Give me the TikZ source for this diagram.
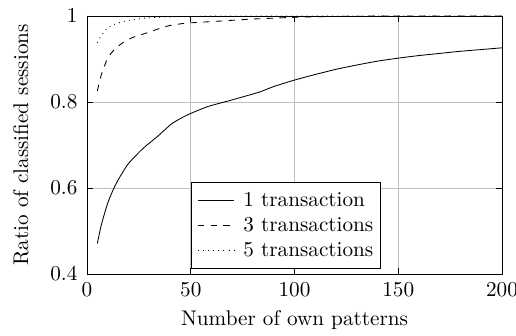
\documentclass[tikz,border=0pt]{standalone}
\usepackage{amsmath}
\usepackage{tikz}

\tikzset{
  gridline/.style={black!25, line width=0.4pt},
  frame/.style={black, line width=0.4pt},
  axtick/.style={black, line width=0.4pt},
  curve/.style={black, line width=0.4pt},
}

\begin{document}
\begin{tikzpicture}[x=0.4717pt, y=0.4717pt]
\useasboundingbox (0,0) rectangle (516,336);

% data coordinates: x in patterns, y in ratio
\begin{scope}[shift={(87,-110)}, x=0.9788pt, y=202.83pt]

% grid
\foreach \gx in {50,100,150} \draw[gridline] (\gx,0.4) -- (\gx,1);
\foreach \gy in {0.6,0.8} \draw[gridline] (0,\gy) -- (200,\gy);

% ticks
\foreach \gx in {0,50,100,150,200} {
  \draw[axtick] (\gx,0.4) -- ++(0,2.85pt);
  \draw[axtick] (\gx,1) -- ++(0,-2.85pt);
}
\foreach \gy in {0.4,0.6,0.8,1} {
  \draw[axtick] (0,\gy) -- ++(2.85pt,0);
  \draw[axtick] (200,\gy) -- ++(-2.85pt,0);
}

% tick labels
\node[anchor=north, yshift=-0.5pt] (x0) at (0,0.4) {$0$};
\node[anchor=north, yshift=-0.5pt] (x50) at (50,0.4) {$50$};
\node[anchor=north, yshift=-0.5pt] (x100) at (100,0.4) {$100$};
\node[anchor=north, yshift=-0.5pt] (x150) at (150,0.4) {$150$};
\node[anchor=north, yshift=-0.5pt] (x200) at (200,0.4) {$200$};
\node[anchor=east, xshift=-1pt] (y04) at (0,0.4) {$0.4$};
\node[anchor=east, xshift=-1pt] (y06) at (0,0.6) {$0.6$};
\node[anchor=east, xshift=-1pt] (y08) at (0,0.8) {$0.8$};
\node[anchor=east, xshift=-1pt] (y1) at (0,1) {$1$};

% 1 transaction
\draw[curve] plot[smooth, tension=.4] coordinates {(5,0.471) (7,0.516) (10,0.565) (13,0.600) (16,0.627) (20,0.657) (27,0.692) (34,0.72) (41,0.75) (48,0.769) (58,0.789) (70,0.805) (83,0.823) (90,0.836) (100,0.851) (110,0.864) (120,0.876) (130,0.886) (140,0.895) (150,0.902) (160,0.908) (170,0.913) (180,0.918) (190,0.922) (200,0.926)};

% 3 transactions
\draw[curve, dashed] plot[smooth, tension=.4] coordinates {(5,0.826) (7,0.865) (10,0.902) (13,0.921) (17,0.937) (22,0.95) (29,0.961) (35,0.971) (40,0.978) (47,0.983) (53,0.985) (60,0.987) (70,0.99) (80,0.993) (90,0.995) (100,0.997) (120,0.999) (150,1) (200,1)};

% 5 transactions
\draw[curve, dotted] plot[smooth, tension=.4] coordinates {(5,0.938) (7,0.955) (10,0.972) (14,0.982) (21,0.991) (30,0.996) (40,0.998) (50,0.999) (70,1) (200,1)};

% frame
\draw[frame] (0,0.4) rectangle (200,1);
\end{scope}

% legend
\draw[frame, fill=white] (191,68) rectangle (380,154);
\coordinate (l1a) at (198,136); \coordinate (l1b) at (234,136);
\coordinate (l2a) at (198,111); \coordinate (l2b) at (234,111);
\coordinate (l3a) at (198,86);  \coordinate (l3b) at (234,86);
\draw[curve] (l1a) -- (l1b);
\draw[curve, dashed] (l2a) -- (l2b);
\draw[curve, dotted] (l3a) -- (l3b);
\node[anchor=west] (t1) at (236,136) {1 transaction};
\node[anchor=west] (t2) at (236,111) {3 transactions};
\node[anchor=west] (t3) at (236,86) {5 transactions};

% axis labels
\node (xlab) at (294.5,16) {Number of own patterns};
\node[rotate=90] (ylab) at (21,191) {Ratio of classified sessions};

\end{tikzpicture}
\end{document}
